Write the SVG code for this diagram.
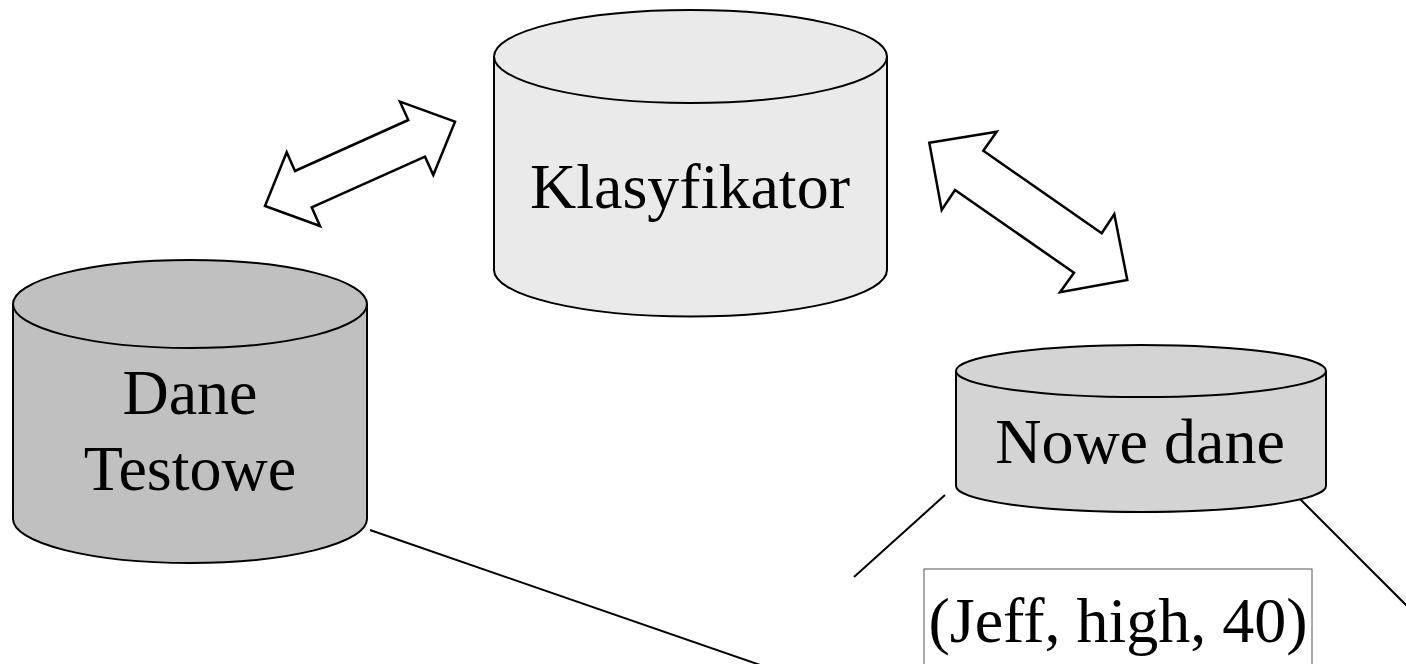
<svg xmlns="http://www.w3.org/2000/svg" width="1406" height="664" viewBox="0 0 1406 664">
<style>
.cyl{stroke:#000;stroke-width:2}
.lbl{font-size:64px;fill:#000;text-anchor:middle}
.conn{stroke:#000;stroke-width:2;fill:none}
.arr{fill:#fff;stroke:#000;stroke-width:2.5;stroke-linejoin:miter}
</style>
<rect width="1406" height="664" fill="#fff"/>
<g id="connectors">
<polygon class="arr" points="455,121.7 400,101.7 408.3,120 295,171 286.7,152.3 265,206 320,226 311.7,207.3 425,156.7 433.3,175"/>
<polygon class="arr" points="929.3,142.7 996.7,131.7 983.3,150.7 1101.7,233.3 1114.3,214.3 1127.3,280 1060,292.3 1074,272.7 955,190 941.7,210"/>
<line class="conn" x1="370" y1="530" x2="766" y2="667"/>
<line class="conn" x1="945" y1="495" x2="854" y2="577"/>
<line class="conn" x1="1297" y1="496" x2="1410" y2="609"/>
</g>
<g font-family="Liberation Serif, DejaVu Serif, serif">
<g id="klasyfikator">
<path class="cyl" fill="#eaeaea" d="M494,56.5 A196.5,46.5 0 0 1 887,56.5 L887,270 A196.5,46.5 0 0 1 494,270 Z"/>
<path class="cyl" fill="none" d="M494,56.5 A196.5,46.5 0 0 0 887,56.5"/>
<text class="lbl" x="690" y="208">Klasyfikator</text>
</g>
<g id="dane-testowe">
<path class="cyl" fill="#c0c0c0" d="M13,304 A177,44 0 0 1 367,304 L367,519 A177,44 0 0 1 13,519 Z"/>
<path class="cyl" fill="none" d="M13,304 A177,44 0 0 0 367,304"/>
<text class="lbl" x="190" y="414">Dane</text>
<text class="lbl" x="190" y="490">Testowe</text>
</g>
<g id="nowe-dane">
<path class="cyl" fill="#d4d4d4" d="M956,371 A185,26 0 0 1 1326,371 L1326,486 A185,26 0 0 1 956,486 Z"/>
<path class="cyl" fill="none" d="M956,371 A185,26 0 0 0 1326,371"/>
<text class="lbl" x="1140" y="463">Nowe dane</text>
</g>
<g id="jeff">
<rect x="924" y="569" width="388" height="110" fill="#fff" stroke="#555" stroke-width="1"/>
<text class="lbl" x="1118" y="642" font-size="59">(Jeff, high, 40)</text>
</g>
</g>
</svg>
